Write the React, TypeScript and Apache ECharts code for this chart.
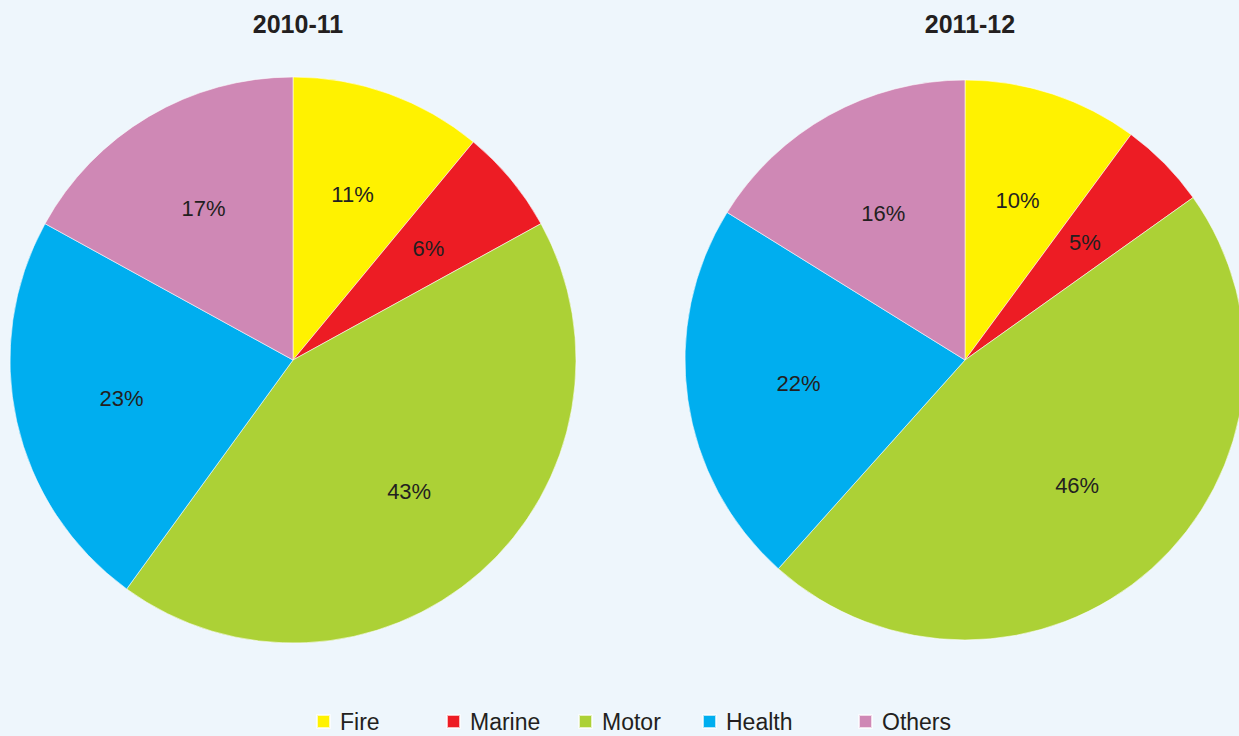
import React, { useEffect, useRef } from "react";
import * as echarts from "echarts";

const categories = ["Fire", "Marine", "Motor", "Health", "Others"];
const colors = ["#fff200", "#ed1c24", "#acd136", "#00aeef", "#cf88b5"];
const years = ["2010-11", "2011-12"];
const share2010 = [11, 6, 43, 23, 17];
const share2011 = [10, 5, 46, 22, 16];

const legendLeft = [316, 446, 578, 702, 858];

export default function App() {
  const ref = useRef<HTMLDivElement>(null);
  useEffect(() => {
    if (!ref.current) return;
    const chart = echarts.init(ref.current, null, { renderer: "svg" });
    const mk = (vals: number[]) =>
      categories.map((name, i) => ({ name, value: vals[i], itemStyle: { color: colors[i] } }));
    const labelStyle = {
      show: true,
      position: "inside",
      formatter: "{c}%",
      color: "#231f20",
      fontSize: 22,
      fontFamily: "Liberation Sans, Arial, sans-serif",
    };
    const pies = [
      { center: [293, 360], r: 283, vals: share2010, k: 1.22 },
      { center: [965, 360], r: 280, vals: share2011, k: 1.18 },
    ];
    const series: any[] = [];
    pies.forEach((p, idx) => {
      series.push({
        type: "pie",
        name: years[idx],
        center: p.center,
        radius: [0, p.r],
        startAngle: 90,
        clockwise: true,
        data: mk(p.vals),
        label: { show: false },
        labelLine: { show: false },
        itemStyle: { borderColor: "rgba(255,255,255,0.7)", borderWidth: 0.8 },
        emphasis: { disabled: true },
        silent: true,
      });
      series.push({
        type: "pie",
        name: years[idx] + " labels",
        center: p.center,
        radius: [0, p.r * p.k],
        startAngle: 90,
        clockwise: true,
        data: categories.map((name, i) => ({
          name,
          value: p.vals[i],
          itemStyle: { color: "rgba(0,0,0,0)", borderWidth: 0 },
        })),
        label: labelStyle,
        labelLine: { show: false },
        emphasis: { disabled: true },
        silent: true,
        z: 5,
      });
    });
    chart.setOption({
      animation: false,
      backgroundColor: "#eef6fc",
      color: colors,
      title: years.map((t, i) => ({
        text: t,
        left: pies[i].center[0],
        textAlign: "center",
        top: 6,
        textStyle: {
          fontFamily: "Liberation Sans, Arial, sans-serif",
          fontWeight: "bold",
          fontSize: 25,
          color: "#231f20",
        },
      })),
      legend: categories.map((name, i) => ({
        data: [name],
        left: legendLeft[i],
        top: 710,
        padding: 0,
        icon: "rect",
        itemWidth: 13,
        itemHeight: 13,
        selectedMode: false,
        textStyle: {
          fontSize: 23,
          color: "#231f20",
          fontFamily: "Liberation Sans, Arial, sans-serif",
          padding: [0, 0, 0, 5],
        },
      })),
      series,
    });
    return () => chart.dispose();
  }, []);
  return (
    <div
      ref={ref}
      style={{ position: "fixed", left: 0, top: 0, width: 1239, height: 736 }}
    />
  );
}
